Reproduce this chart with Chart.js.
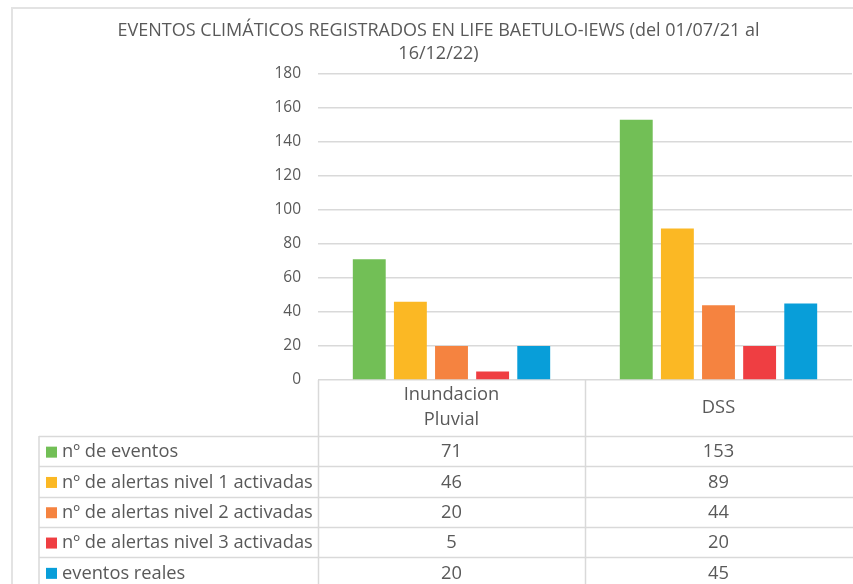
<!DOCTYPE html>
<html>
<head>
<meta charset="utf-8">
<script src="https://cdn.jsdelivr.net/npm/chart.js@4"></script>
<style>
  html, body { margin: 0; padding: 0; background: #fff; overflow: hidden; }
  #wrap { position: relative; width: 853px; height: 584px; }
</style>
</head>
<body>
<div id="wrap"><canvas id="eventsChart" width="853" height="584"></canvas></div>
<script>
// categories and series
var categories = [["Inundacion", "Pluvial"], "DSS"];
var seriesNames = ["nº de eventos", "nº de alertas nivel 1 activadas", "nº de alertas nivel 2 activadas", "nº de alertas nivel 3 activadas", "eventos reales"];
var nEventos = [71, 153];
var alertasN1 = [46, 89];
var alertasN2 = [20, 44];
var alertasN3 = [5, 20];
var eventosReales = [20, 45];
var seriesColors = ["#72BF56", "#FBB824", "#F58340", "#EF3E42", "#089ED9"];
var yTicks = [0, 20, 40, 60, 80, 100, 120, 140, 160, 180];

var txtColor = "#595959";
var lineColor = "#d9d9d9";
var allSeries = [nEventos, alertasN1, alertasN2, alertasN3, eventosReales];

var datasets = [];
for (var i = 0; i < allSeries.length; i++) {
  datasets.push({
    label: seriesNames[i],
    data: allSeries[i],
    backgroundColor: seriesColors[i],
    categoryPercentage: 0.77,
    barPercentage: 0.8
  });
}

// draws the frame and the data table under the plot
var dataTable = {
  id: "dataTable",
  afterDraw: function(chart) {
    var ctx = chart.ctx;
    var xs = chart.scales.x;
    var area = chart.chartArea;
    var catW = xs.width / categories.length;
    var tableLeft = 39;
    var headBottom = 436;
    var rowH = 30.3;
    ctx.save();
    // outer frame
    ctx.strokeStyle = "#e3e3e3";
    ctx.lineWidth = 2;
    ctx.beginPath();
    ctx.moveTo(12, 600); ctx.lineTo(12, 8); ctx.lineTo(853, 8);
    ctx.stroke();

    ctx.strokeStyle = lineColor;
    ctx.lineWidth = 1.5;
    ctx.beginPath();
    // vertical lines at the category edges (the last one is off the picture)
    for (var c = 0; c < categories.length; c++) {
      var vx = Math.round(area.left + c * catW) + 0.5;
      ctx.moveTo(vx, area.bottom); ctx.lineTo(vx, 600);
    }
    ctx.moveTo(tableLeft, headBottom); ctx.lineTo(tableLeft, 600);
    for (var r = 0; r <= seriesNames.length; r++) {
      var hy = Math.round(headBottom + r * rowH) + 0.5;
      ctx.moveTo(tableLeft, hy); ctx.lineTo(area.right + 2, hy);
    }
    ctx.stroke();

    ctx.fillStyle = txtColor;
    ctx.font = "18.3px 'Open Sans'";
    ctx.textAlign = "center";
    ctx.textBaseline = "middle";
    // header
    for (var k = 0; k < categories.length; k++) {
      var cx = xs.getPixelForValue(k);
      var lab = categories[k];
      if (Array.isArray(lab)) {
        for (var l = 0; l < lab.length; l++) {
          ctx.fillText(lab[l], cx, 395 + l * 25);
        }
      } else {
        ctx.fillText(lab, cx, 408);
      }
    }
    // rows
    for (var s = 0; s < seriesNames.length; s++) {
      var cy = headBottom + s * rowH + rowH / 2 + 1;
      ctx.fillStyle = seriesColors[s];
      ctx.fillRect(46, cy - 5.5, 11, 11);
      ctx.fillStyle = txtColor;
      ctx.textAlign = "left";
      ctx.fillText(seriesNames[s], 62, cy);
      ctx.textAlign = "center";
      for (var k2 = 0; k2 < categories.length; k2++) {
        ctx.fillText(String(allSeries[s][k2]), xs.getPixelForValue(k2), cy);
      }
    }
    ctx.restore();
  }
};

var myChart = new Chart(document.getElementById("eventsChart"), {
  type: "bar",
  data: { labels: categories, datasets: datasets },
  plugins: [dataTable],
  options: {
    responsive: false,
    animation: false,
    layout: { padding: { left: 25, right: 1, top: 0, bottom: 204 } },
    plugins: {
      legend: { display: false },
      tooltip: { enabled: false },
      title: {
        display: true,
        text: ["EVENTOS CLIMÁTICOS REGISTRADOS EN LIFE BAETULO-IEWS (del 01/07/21 al", "16/12/22)"],
        color: txtColor,
        font: { family: "'Open Sans'", size: 18, weight: "normal", lineHeight: 1.3 },
        padding: { top: 19, bottom: 8 }
      }
    },
    scales: {
      x: { display: false },
      y: {
        min: 0,
        max: 180,
        afterFit: function(scale) { scale.width = 293; },
        afterBuildTicks: function(scale) {
          scale.ticks = yTicks.map(function(v) { return { value: v }; });
        },
        border: { display: false },
        grid: { color: lineColor, lineWidth: 1.5, drawTicks: false },
        ticks: { color: txtColor, padding: 17, font: { family: "'Open Sans'", size: 15.5 } }
      }
    }
  }
});
</script>
</body>
</html>
